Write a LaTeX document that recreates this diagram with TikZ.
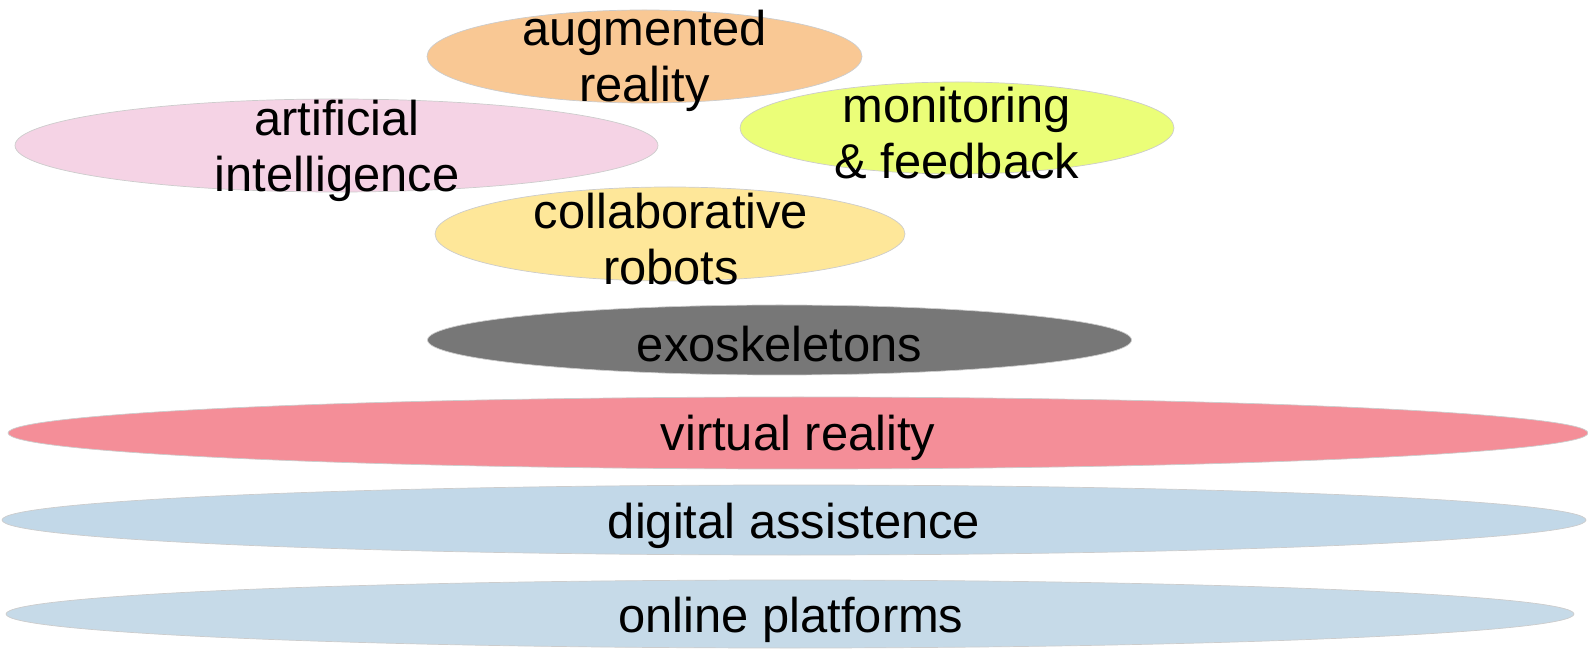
\documentclass[tikz,border=0pt]{standalone}
\usepackage{fontspec}
\setmainfont{Liberation Sans}
\usepackage{xcolor}
\definecolor{augcol}{HTML}{F9C894}
\definecolor{aicol}{HTML}{F5D3E5}
\definecolor{moncol}{HTML}{EBFE78}
\definecolor{cobotcol}{HTML}{FEE799}
\definecolor{exocol}{HTML}{777777}
\definecolor{vrcol}{HTML}{F48E98}
\definecolor{digcol}{HTML}{C2D8E8}
\definecolor{onlcol}{HTML}{C6DAE8}
\tikzset{
  blob/.style={draw=black!20, line width=0.2pt},
  lbl/.style={align=center, inner sep=0pt, text=black, font=\fontsize{13.9}{16}\selectfont}
}

\begin{document}
\begin{tikzpicture}[x=0.01cm, y=-0.01cm]
\useasboundingbox (0,0) rectangle (1588,649);
\path[blob, fill=augcol] (644.5,56.5) ellipse [x radius=217.5, y radius=46.5];
\path[blob, fill=aicol] (336.5,145.5) ellipse [x radius=321.5, y radius=46.5];
\path[blob, fill=moncol] (957,128) ellipse [x radius=217, y radius=46];
\path[blob, fill=cobotcol] (670,234) ellipse [x radius=235, y radius=47];
\path[blob, fill=exocol] (779.5,340) ellipse [x radius=352, y radius=35];
\path[blob, fill=vrcol] (798,433) ellipse [x radius=790, y radius=36];
\path[blob, fill=digcol] (794,520) ellipse [x radius=792, y radius=35];
\path[blob, fill=onlcol] (790,614) ellipse [x radius=784, y radius=34];

\node[lbl] (aug) at (644.5,61) {augmented\\reality};
\node[lbl] (ai) at (337,151) {artificial\\intelligence};
\node[lbl] (mon) at (957,133) {monitoring\\\& feedback};
\node[lbl] (cobot) at (671,239) {collaborative\\robots};
\node[lbl] (exo) at (779.5,344) {exoskeletons};
\node[lbl] (vr) at (798,438) {virtual reality};
\node[lbl] (dig) at (794,526) {digital assistence};
\node[lbl] (onl) at (791,620) {online platforms};
\end{tikzpicture}
\end{document}
